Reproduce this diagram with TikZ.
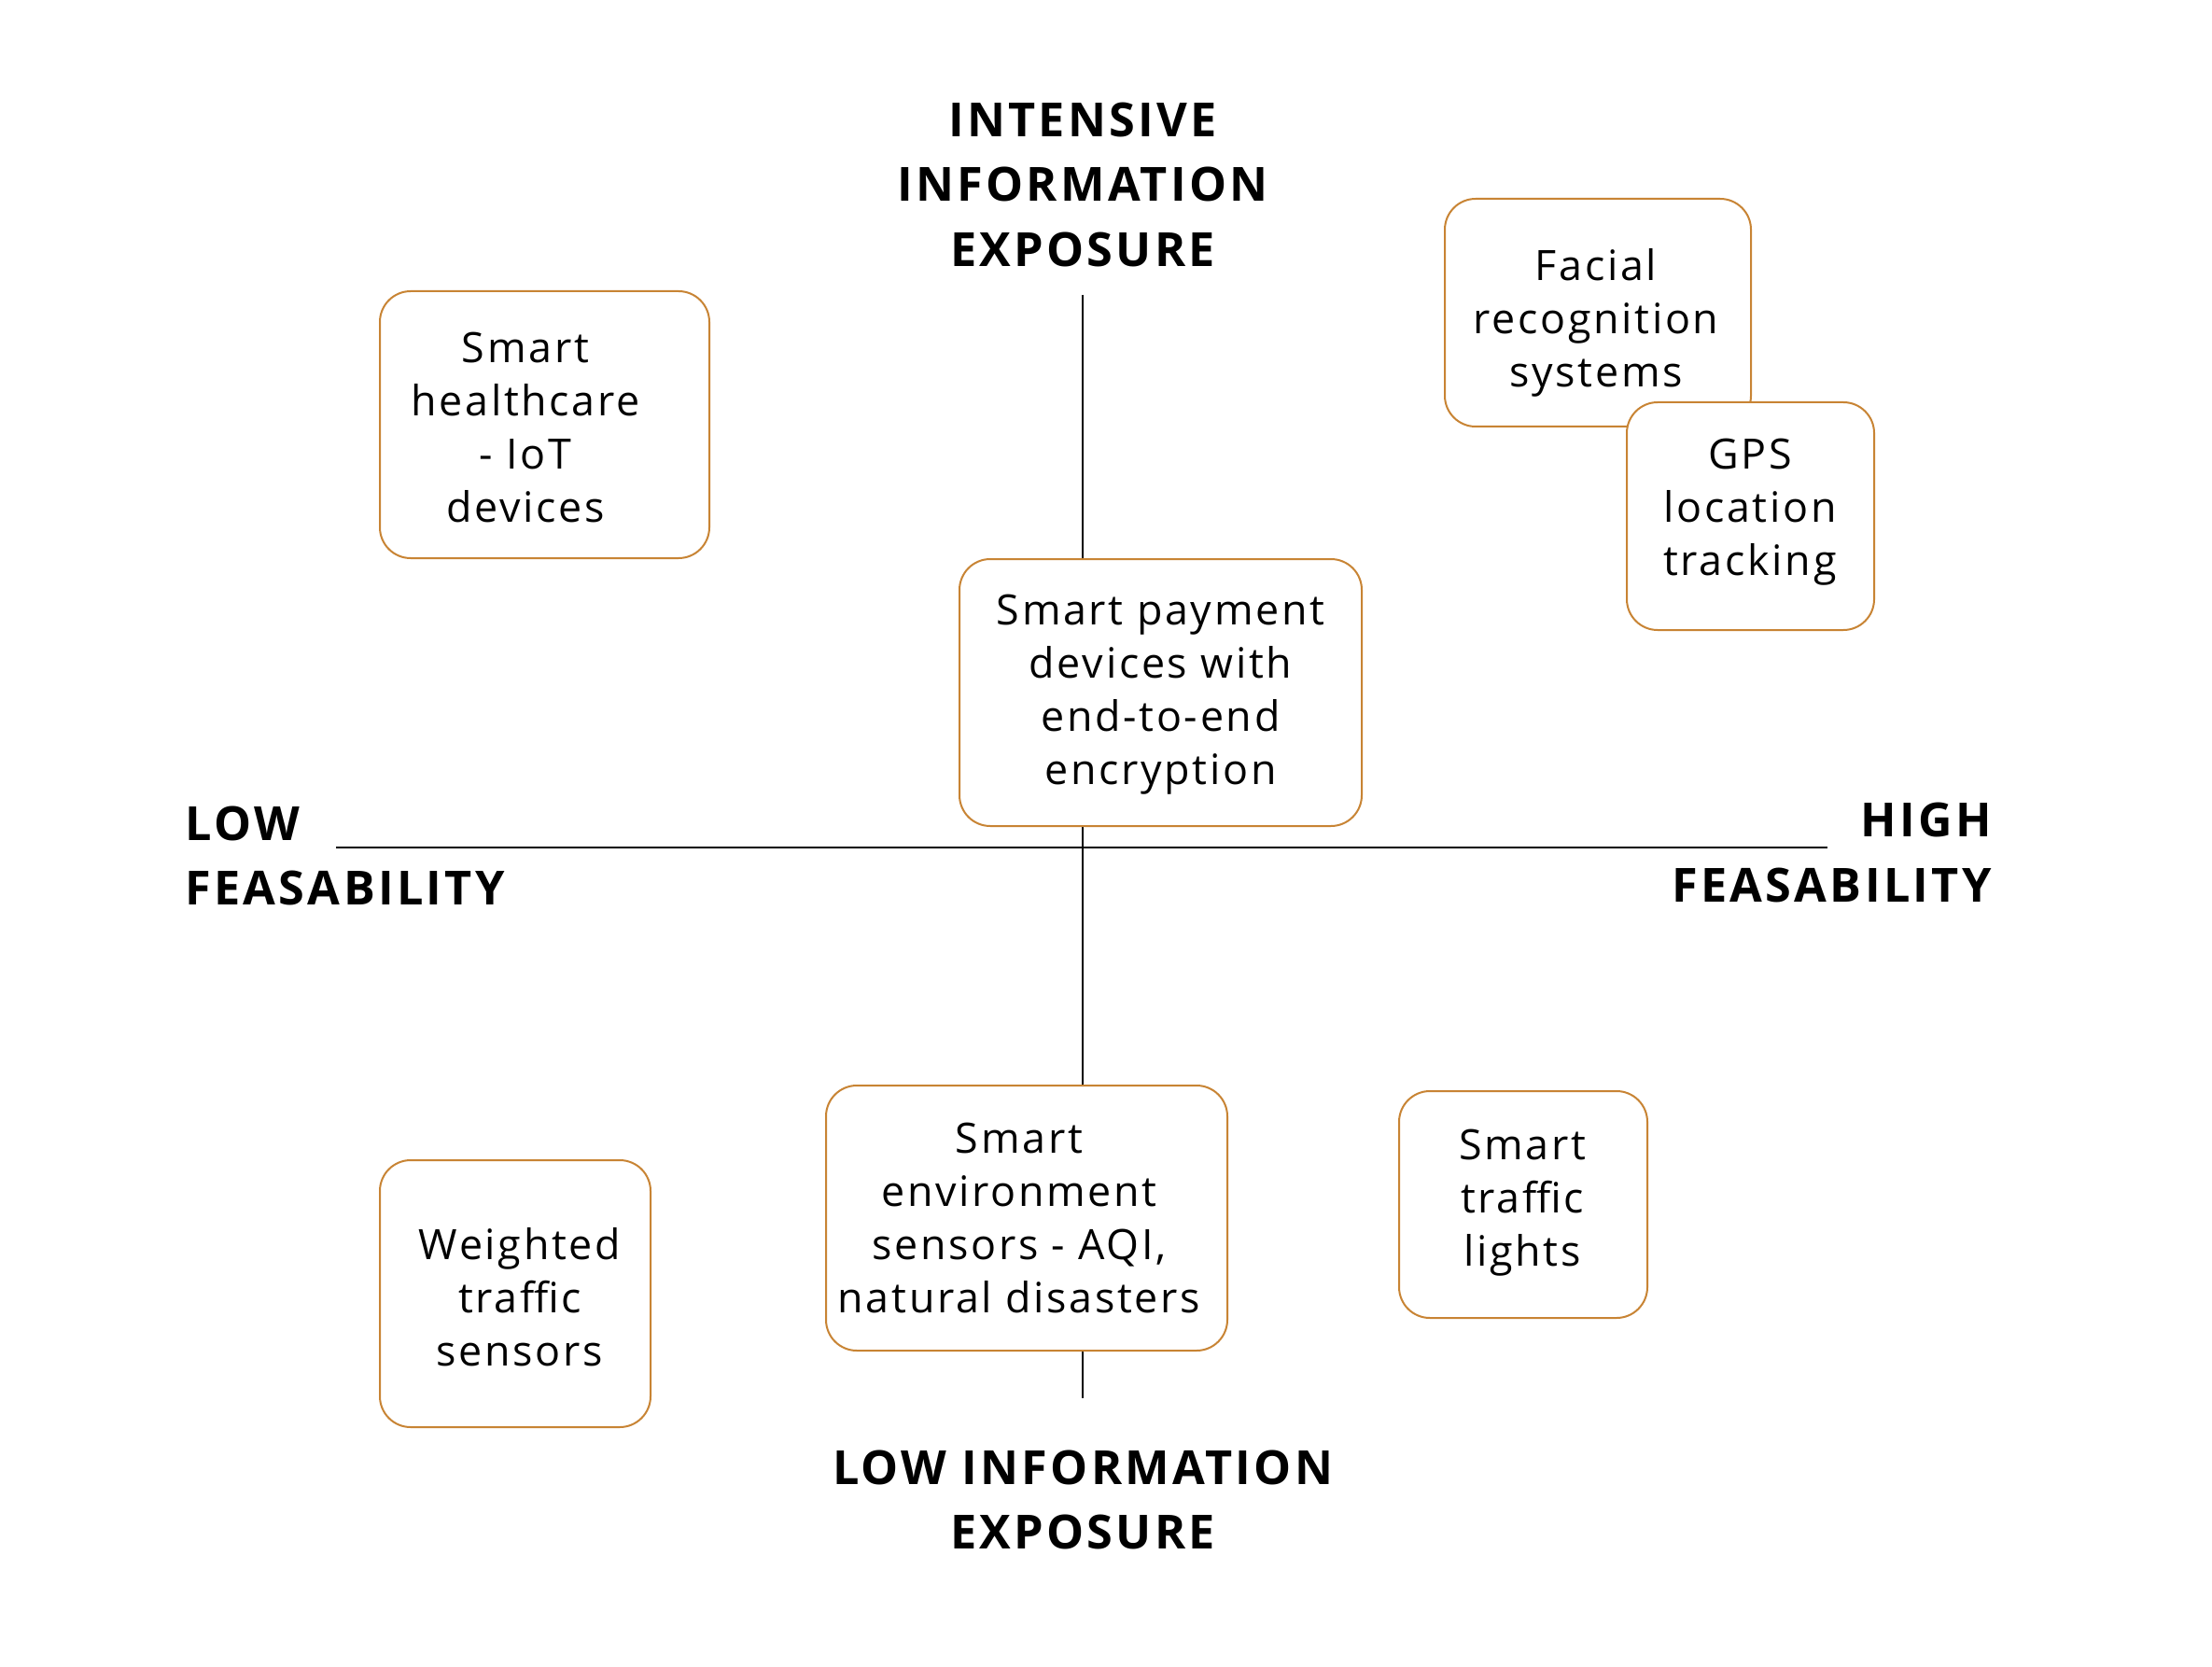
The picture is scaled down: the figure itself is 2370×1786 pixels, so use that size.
\documentclass[tikz,border=0pt]{standalone}
\usepackage{fontspec}
\newfontfamily\bodyfont{Open Sans}[LetterSpace=6]
\newfontfamily\headfont{Open Sans}[LetterSpace=6.5]
\definecolor{boxcol}{RGB}{200,132,52}
\begin{document}
\begin{tikzpicture}[x=0.5pt,y=-0.5pt,
  box/.style={draw=boxcol, line width=1pt, fill=white, rounded corners=16.5pt, inner sep=0pt},
  txt/.style={align=center, inner sep=0pt, font=\bodyfont\fontsize{22.4}{28.5}\selectfont},
  head/.style={inner sep=0pt, font=\headfont\bfseries\fontsize{25.2}{34.8}\selectfont},
  axis/.style={draw=black, line width=0.8pt}]
\useasboundingbox[fill=white] (0,0) rectangle (2370,1786);
% axes
\coordinate (vtop) at (1160,316);
\coordinate (vbot) at (1160,1498);
\coordinate (hl) at (360,908);
\coordinate (hr) at (1958,908);
\draw[axis] (vtop) -- (vbot);
\draw[axis] (hl) -- (hr);
% axis labels
\node[head, align=center] (top) at (1160,202) {\strut INTENSIVE\\INFORMATION\\EXPOSURE\strut};
\node[head, align=center] (bottom) at (1160,1611) {\strut LOW INFORMATION\\EXPOSURE\strut};
\node[head, align=left, anchor=west] (left) at (198,921) {\strut LOW\\FEASABILITY\strut};
\node[head, align=right, anchor=east] (right) at (2134,917.4) {\strut HIGH\\FEASABILITY\strut};
% boxes
\node[box, minimum width=176.5pt, minimum height=143pt] (hc) at (583.5,455) {};
\node[txt] (hct) at (563,462.6) {\strut Smart\\healthcare\\- IoT\\devices\strut};
\node[box, minimum width=164pt, minimum height=122pt] (fac) at (1712,335) {};
\node[txt] (fact) at (1710,346.5) {\strut Facial\\recognition\\systems\strut};
\node[box, minimum width=132.5pt, minimum height=122pt] (gps) at (1875.5,553) {};
\node[txt] (gpst) at (1875,548) {\strut GPS\\location\\tracking\strut};
\node[box, minimum width=215.5pt, minimum height=143pt] (pay) at (1243.5,742) {};
\node[txt] (payt) at (1243.5,743.6) {\strut Smart payment\\devices with\\end-to-end\\encryption\strut};
\node[box, minimum width=215pt, minimum height=142pt] (env) at (1100,1305) {};
\node[txt] (envt) at (1092,1310) {\strut Smart\\environment\\sensors - AQI,\\natural disasters\strut};
\node[box, minimum width=133pt, minimum height=121.5pt] (tl) at (1632,1290.5) {};
\node[txt] (tlt) at (1631,1288) {\strut Smart\\traffic\\lights\strut};
\node[box, minimum width=145pt, minimum height=143pt] (wt) at (552,1386) {};
\node[txt] (wtt) at (557,1394.6) {\strut Weighted\\traffic\\sensors\strut};
\end{tikzpicture}
\end{document}
